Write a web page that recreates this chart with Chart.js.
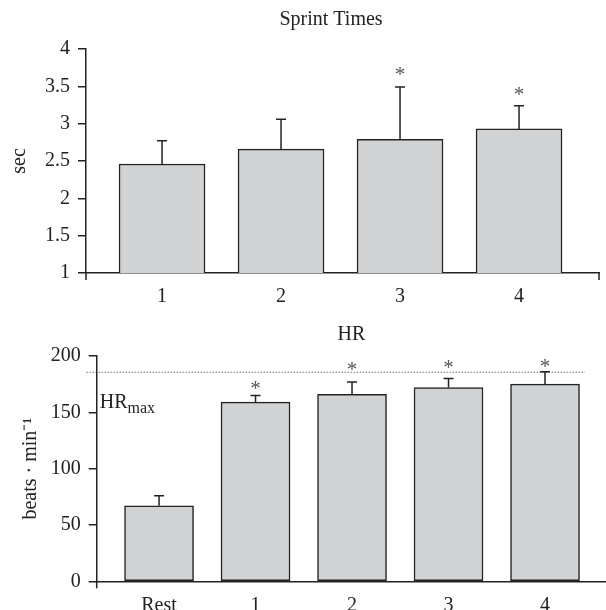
<!DOCTYPE html>
<html>
<head>
<meta charset="utf-8">
<script src="https://cdn.jsdelivr.net/npm/chart.js@4.4.0/dist/chart.umd.min.js"></script>
<style>
  html, body { margin: 0; padding: 0; background: #fff; }
  #wrap { position: relative; width: 606px; height: 610px; }
  .box { position: absolute; left: 0; width: 606px; }
  #top { top: 0; height: 310px; }
  #bot { top: 300px; height: 310px; }
</style>
</head>
<body>
<div id="wrap">
  <div class="box" id="top"><canvas id="sprintChart"></canvas></div>
  <div class="box" id="bot"><canvas id="hrChart"></canvas></div>
</div>
<script>
// Sprint times (sec)
const sprintLabels = ["1", "2", "3", "4"];
const sprintMeans = [2.46, 2.66, 2.79, 2.93];
const sprintErr = [0.31, 0.40, 0.70, 0.31];
const sprintStarAt = [null, null, 3.72, 3.45];

// Heart rate (beats/min)
const hrLabels = ["Rest", "1", "2", "3", "4"];
const hrMeans = [67, 159, 166, 172, 175];
const hrErr = [9, 6, 11, 8, 11];
const hrStarAt = [null, 175, 192, 194, 195];
const hrMax = 186;

const FONT = "'Liberation Serif', 'Times New Roman', serif";
const INK = "#222";
const BAR = "#d1d2d4";

// error bars + asterisks
const errorBars = {
  id: "errorBars",
  afterDatasetsDraw(chart, args, opts) {
    const ctx = chart.ctx;
    const y = chart.scales.y;
    const bars = chart.getDatasetMeta(0).data;
    ctx.save();
    ctx.strokeStyle = INK;
    ctx.lineWidth = 1.5;
    bars.forEach((bar, i) => {
      const top = y.getPixelForValue(opts.means[i] + opts.err[i]);
      ctx.beginPath();
      ctx.moveTo(bar.x, bar.y);
      ctx.lineTo(bar.x, top);
      ctx.moveTo(bar.x - 5, top);
      ctx.lineTo(bar.x + 5, top);
      ctx.stroke();
      if (opts.stars[i] != null) {
        ctx.fillStyle = "#555";
        ctx.font = "21px " + FONT;
        ctx.textAlign = "center";
        ctx.textBaseline = "alphabetic";
        ctx.fillText("*", bar.x, y.getPixelForValue(opts.stars[i]) + 11);
      }
    });
    ctx.restore();
  }
};

// chart title + little axis end ticks
const deco = {
  id: "deco",
  afterDraw(chart, args, opts) {
    const ctx = chart.ctx;
    const a = chart.chartArea;
    ctx.save();
    ctx.fillStyle = INK;
    ctx.font = "20px " + FONT;
    ctx.textAlign = "center";
    ctx.textBaseline = "middle";
    ctx.fillText(opts.title, opts.titleX || (a.left + a.right) / 2, opts.titleY);
    ctx.strokeStyle = INK;
    ctx.lineWidth = 1.5;
    ctx.beginPath();
    ctx.moveTo(a.left, a.bottom);
    ctx.lineTo(a.left, a.bottom + 7);
    if (opts.rightTick) {
      ctx.moveTo(a.right, a.bottom);
      ctx.lineTo(a.right, a.bottom + 7);
    }
    ctx.stroke();
    ctx.restore();
  }
};

// HRmax dotted line
const maxLine = {
  id: "maxLine",
  afterDraw(chart) {
    const ctx = chart.ctx;
    const a = chart.chartArea;
    const y = chart.scales.y.getPixelForValue(hrMax);
    ctx.save();
    ctx.strokeStyle = "#333";
    ctx.lineWidth = 1;
    ctx.setLineDash([1, 2]);
    ctx.beginPath();
    ctx.moveTo(a.left - 10, y + 0.5);
    ctx.lineTo(a.right - 21, y + 0.5);
    ctx.stroke();
    ctx.setLineDash([]);
    ctx.fillStyle = INK;
    ctx.textAlign = "left";
    ctx.textBaseline = "alphabetic";
    ctx.font = "20px " + FONT;
    ctx.fillText("HR", a.left + 3, y + 36);
    const w = ctx.measureText("HR").width;
    ctx.font = "16px " + FONT;
    ctx.fillText("max", a.left + 3 + w, y + 41);
    ctx.restore();
  }
};

function yAxis(min, max, step, title, titlePad, width) {
  return {
    min: min,
    max: max,
    ticks: {
      stepSize: step,
      color: INK,
      font: { family: FONT, size: 20 },
      padding: 8,
      callback: (v) => String(v)
    },
    grid: { drawOnChartArea: false, tickLength: 8, color: INK, lineWidth: 1.5 },
    border: { color: INK, width: 1.5 },
    title: { display: true, text: title, color: INK, font: { family: FONT, size: 20 }, padding: { top: titlePad } },
    afterFit(s) { s.width = width; }
  };
}

function xAxis(labels, first, min, max, height) {
  return {
    type: "linear",
    offset: false,
    min: min,
    max: max,
    afterBuildTicks(s) { s.ticks = labels.map((l, i) => ({ value: first + i })); },
    ticks: {
      color: INK,
      font: { family: FONT, size: 20 },
      padding: 4,
      callback: (v) => labels[Math.round(v) - first]
    },
    grid: { display: false, offset: false },
    border: { color: INK, width: 1.5 },
    afterFit(s) { s.height = height; }
  };
}

new Chart(document.getElementById("sprintChart"), {
  type: "bar",
  data: {
    datasets: [{
      data: sprintMeans.map((v, i) => ({ x: i + 1, y: v })),
      backgroundColor: BAR,
      borderColor: INK,
      borderWidth: 1.5,
      borderSkipped: false,
      barThickness: 86
    }]
  },
  options: {
    responsive: true,
    maintainAspectRatio: false,
    animation: false,
    layout: { padding: { top: 49, right: 7, left: 0, bottom: 0 } },
    plugins: {
      legend: { display: false },
      tooltip: { enabled: false },
      errorBars: { means: sprintMeans, err: sprintErr, stars: sprintStarAt },
      deco: { title: "Sprint Times", titleX: 331, titleY: 20, rightTick: true }
    },
    scales: {
      x: xAxis(sprintLabels, 1, 0.361, 4.672, 37),
      y: yAxis(1, 4, 0.5, "sec", 8, 86)
    }
  },
  plugins: [errorBars, deco]
});

new Chart(document.getElementById("hrChart"), {
  type: "bar",
  data: {
    datasets: [{
      data: hrMeans.map((v, i) => ({ x: i, y: v })),
      backgroundColor: BAR,
      borderColor: INK,
      borderWidth: 1.5,
      borderSkipped: false,
      barThickness: 69
    }]
  },
  options: {
    responsive: true,
    maintainAspectRatio: false,
    animation: false,
    layout: { padding: { top: 56, right: 0, left: 0, bottom: 0 } },
    plugins: {
      legend: { display: false },
      tooltip: { enabled: false },
      errorBars: { means: hrMeans, err: hrErr, stars: hrStarAt },
      deco: { title: "HR", titleY: 35, rightTick: false }
    },
    scales: {
      x: xAxis(hrLabels, 0, -0.646, 4.632, 28.7),
      y: yAxis(0, 200, 50, "beats \u00b7 min\u207b\u00b9", 19, 96.7)
    }
  },
  plugins: [errorBars, deco, maxLine]
});
</script>
</body>
</html>
